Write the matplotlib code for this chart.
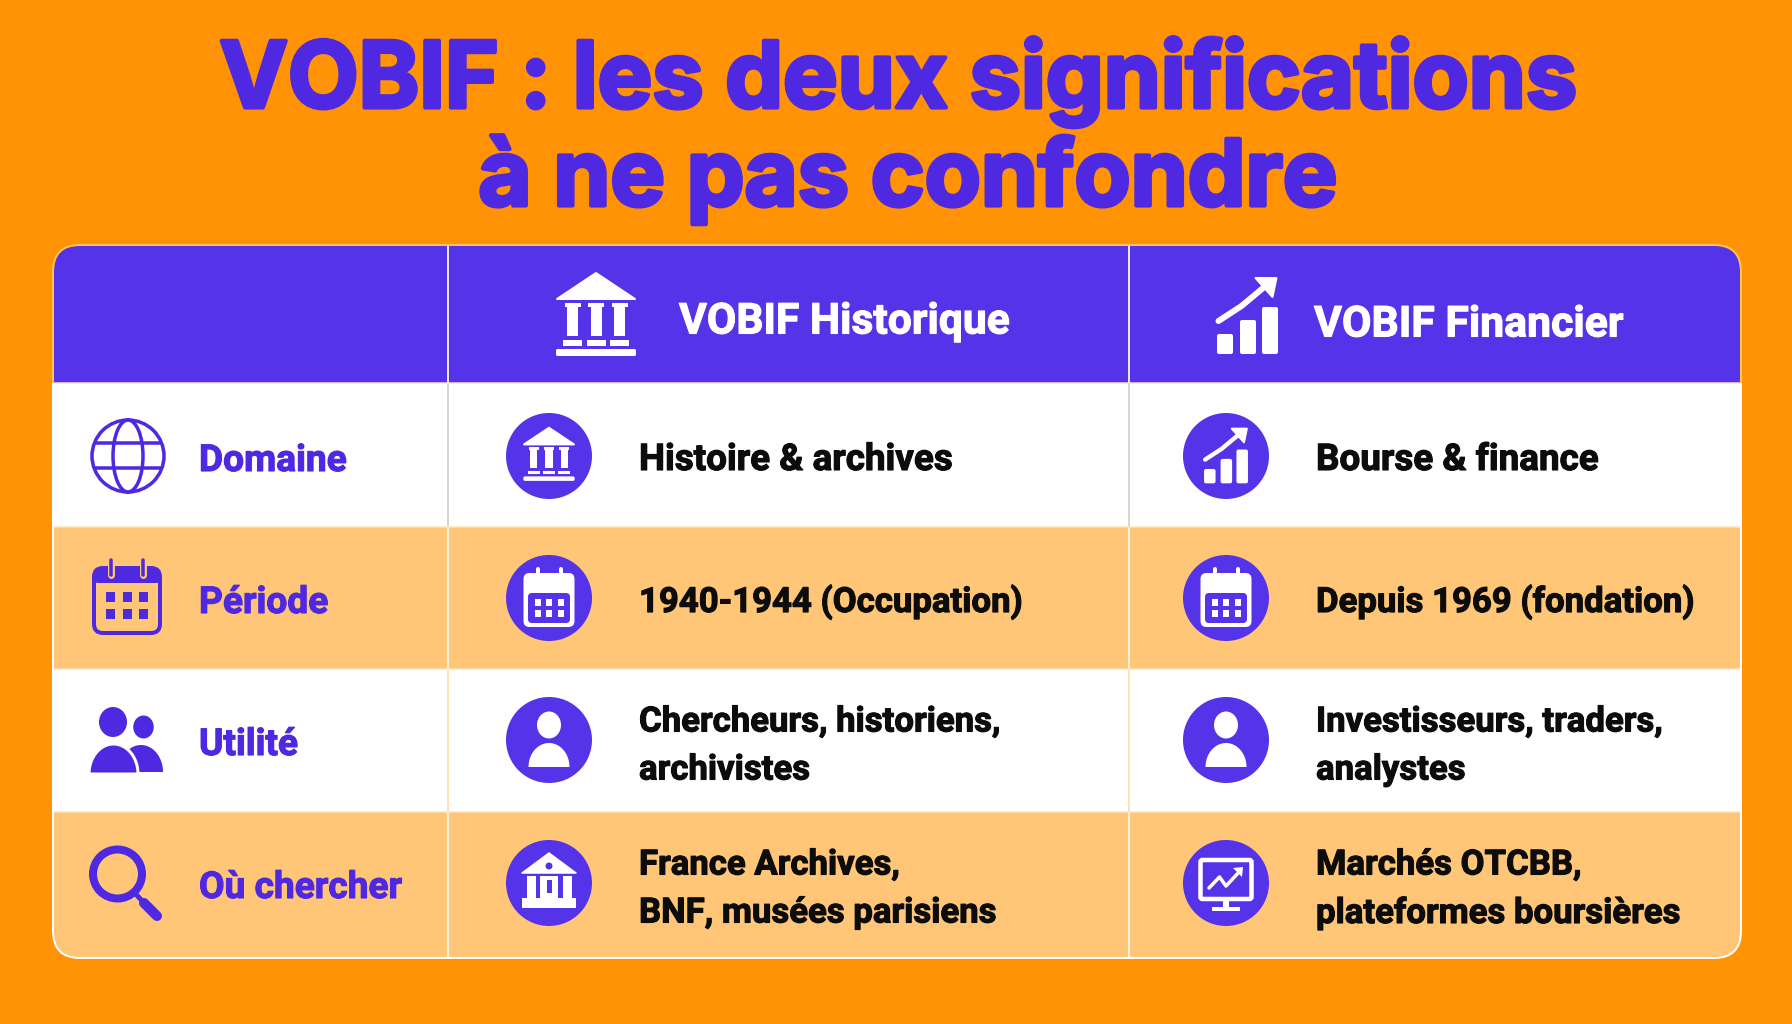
import numpy as np
import matplotlib
matplotlib.use('Agg')
from matplotlib import pyplot as plt
from matplotlib import patheffects as pe
from matplotlib.patches import Rectangle, Circle, Ellipse, Polygon, FancyBboxPatch

plt.rcParams['font.family'] = ['Roboto', 'DejaVu Sans']

#%% CONTENT
title_lines = ['VOBIF : les deux significations', 'à ne pas confondre']
col_headers = ['VOBIF Historique', 'VOBIF Financier']
row_labels = ['Domaine', 'Période', 'Utilité', 'Où chercher']
cells_hist = ['Histoire & archives', '1940-1944 (Occupation)',
              'Chercheurs, historiens,\narchivistes', 'France Archives,\nBNF, musées parisiens']
cells_fin = ['Bourse & finance', 'Depuis 1969 (fondation)',
             'Investisseurs, traders,\nanalystes', 'Marchés OTCBB,\nplateformes boursières']
icons_hist = ['bank', 'calendar', 'person', 'monument']
icons_fin = ['chart', 'calendar', 'person', 'monitor']

#%% COLOURS / LAYOUT (pixels)
ORANGE = '#FF9305'
PURPLE = '#5533E8'
LABEL = '#4F28E2'
TAN = '#FFC677'
WHITE = '#FFFFFF'
INK = '#0C0C0C'

L, R, T, B = 53, 1741, 245, 958
colX = [448, 1129]
rowY = [383, 527, 669, 812]
rowC = [456, 598, 740, 883]
circX = [549, 1226]
textX = [639, 1316]
cellSize = [26.5, 25, 25, 25]

fig = plt.figure(figsize=(17.92, 10.24), dpi=100, facecolor=ORANGE)
ax = fig.add_axes([0, 0, 1, 1])
ax.set_xlim(0, 1792)
ax.set_ylim(1024, 0)
ax.axis('off')


def lw(px):
    return px * 0.72


def rect(x0, y0, x1, y1, c, z=5, r=0):
    if r:
        p = FancyBboxPatch((x0 + r, y0 + r), x1 - x0 - 2 * r, y1 - y0 - 2 * r, boxstyle='round,pad=%f,rounding_size=%f' % (r, r),
                           fc=c, ec='none', zorder=z)
    else:
        p = Rectangle((x0, y0), x1 - x0, y1 - y0, fc=c, ec='none', zorder=z)
    ax.add_patch(p)
    return p


def line(xs, ys, c, px, z=6, cap='round'):
    ax.plot(xs, ys, color=c, lw=lw(px), solid_capstyle=cap, solid_joinstyle='round', zorder=z)


def dome(cx, bottom, hw, h, c, z=6, ec='none', px=0):
    t = np.linspace(0, np.pi, 40)
    ax.add_patch(Polygon(np.c_[cx + hw * np.cos(t), bottom - h * np.sin(t)], fc=c, ec=ec, lw=lw(px), zorder=z))


def bold(x, y, txt, c, size, stroke=0.8, ha='left'):
    ax.text(x, y, txt, color=c, fontsize=size, fontweight='bold', ha=ha, va='center', zorder=8,
            path_effects=[pe.withStroke(linewidth=stroke, foreground=c)])


#%% ICONS
def bank(cx, cy, s, c):
    ax.add_patch(Polygon([(cx, cy - 41 * s), (cx + 39 * s, cy - 15 * s), (cx - 39 * s, cy - 15 * s)],
                         fc=c, ec=c, lw=lw(2), joinstyle='round', zorder=6))
    for dx in (-23.5, 0, 23.5):
        rect(cx + (dx - 8) * s, cy - 11 * s, cx + (dx + 8) * s, cy - 7 * s, c, 6)
        rect(cx + (dx - 5.5) * s, cy - 9 * s, cx + (dx + 5.5) * s, cy + 22 * s, c, 6)
        rect(cx + (dx - 9.5) * s, cy + 26 * s, cx + (dx + 9.5) * s, cy + 32 * s, c, 6)
    rect(cx - 40 * s, cy + 35 * s, cx + 40 * s, cy + 42 * s, c, 6, r=1.5)


def chart(cx, cy, s, c):
    for x0, top in ((-30.5, 18), (-7.5, 4), (14.5, -9)):
        rect(cx + x0 * s, cy + top * s, cx + (x0 + 16) * s, cy + 38 * s, c, 6, r=2)
    line([cx - 29 * s, cx - 6 * s, cx + 24 * s], [cy + 5 * s, cy - 10 * s, cy - 35 * s], c, 6 * s)
    ax.add_patch(Polygon([(cx + 29 * s, cy - 38 * s), (cx + 8 * s, cy - 38 * s), (cx + 25 * s, cy - 19 * s)],
                         fc=c, ec=c, lw=lw(2), joinstyle='round', zorder=6))


def calendar_white(cx, cy, c, bg):
    rect(cx - 25.5, cy - 25, cx + 25.5, cy + 29, c, 6, r=6)
    line([cx - 11, cx - 11], [cy - 29, cy - 22], c, 4)
    line([cx + 12, cx + 12], [cy - 29, cy - 22], c, 4)
    rect(cx - 21, cy - 5, cx + 21, cy + 25, bg, 7, r=4)
    for dx in (-11, 0, 12):
        for dy in (4, 15):
            rect(cx + dx - 3.2, cy + dy - 3.5, cx + dx + 3.2, cy + dy + 3.5, c, 8)


def person(cx, cy, c):
    ax.add_patch(Ellipse((cx, cy - 15), 24, 27, fc=c, ec='none', zorder=6))
    dome(cx, cy + 27, 20.5, 24, c)


def monument(cx, cy, c, bg):
    ax.add_patch(Polygon([(cx, cy - 30), (cx + 27, cy - 10), (cx - 27, cy - 10)], fc=c, ec=c, lw=lw(1.5),
                         joinstyle='round', zorder=6))
    ax.add_patch(Circle((cx, cy - 17), 3.5, fc=bg, ec='none', zorder=7))
    for dx in (-18, 18):
        rect(cx + dx - 4.5, cy - 7, cx + dx + 4.5, cy + 15, c, 6)
    rect(cx - 9, cy - 7, cx + 9, cy + 15, c, 6)
    rect(cx - 2.5, cy - 3, cx + 2.5, cy + 10, bg, 7)
    rect(cx - 27, cy + 15, cx + 27, cy + 25, c, 6)


def monitor(cx, cy, c):
    ax.add_patch(FancyBboxPatch((cx - 25.5, cy - 23), 51, 39, boxstyle='round,pad=0,rounding_size=2',
                                fc='none', ec=c, lw=lw(4.5), zorder=6))
    line([cx - 17, cx - 6.5, cx, cx + 14], [cy + 5, cy - 6, cy + 3, cy - 12], c, 3.5)
    ax.add_patch(Polygon([(cx + 17, cy - 16), (cx + 7, cy - 15), (cx + 16, cy - 6)], fc=c, ec='none', zorder=6))
    rect(cx - 3, cy + 18, cx + 3, cy + 24, c, 6)
    rect(cx - 14, cy + 24, cx + 14, cy + 28, c, 6)


def draw_cell_icon(name, cx, cy):
    ax.add_patch(Circle((cx, cy), 43, fc=PURPLE, ec='none', zorder=5))
    if name == 'bank':
        bank(cx, cy - 2, 0.64, WHITE)
    elif name == 'chart':
        chart(cx, cy, 0.72, WHITE)
    elif name == 'calendar':
        calendar_white(cx, cy, WHITE, PURPLE)
    elif name == 'person':
        person(cx, cy, WHITE)
    elif name == 'monument':
        monument(cx, cy, WHITE, PURPLE)
    elif name == 'monitor':
        monitor(cx, cy, WHITE)


#%% TABLE
frame = FancyBboxPatch((L, T), R - L, B - T, boxstyle='round,pad=0,rounding_size=27', fc='none', ec='none', zorder=1)
ax.add_patch(frame)
bands = [(T, rowY[0], PURPLE), (rowY[0], rowY[1], WHITE), (rowY[1], rowY[2], TAN),
         (rowY[2], rowY[3], WHITE), (rowY[3], B, TAN)]
for y0, y1, c in bands:
    rect(L, y0, R, y1, c, 2).set_clip_path(frame)

for x in colX:
    line([x, x], [T, rowY[0]], '#E9E6FF', 2, 3, 'butt')
    line([x, x], [rowY[0], rowY[1]], '#D8D6D2', 2, 3, 'butt')
    line([x, x], [rowY[1], rowY[2]], '#FFF1DC', 2, 3, 'butt')
    line([x, x], [rowY[2], rowY[3]], '#FFE2B8', 2, 3, 'butt')
    line([x, x], [rowY[3], B], '#FFF1DC', 2, 3, 'butt')
for y in rowY:
    line([L, R], [y, y], '#FFE2B8', 1.5, 3, 'butt')

for y0, y1, c in [(0, rowY[0], '#FFC34F'), (rowY[0], 1024, WHITE)]:
    edge = FancyBboxPatch((L, T), R - L, B - T, boxstyle='round,pad=0,rounding_size=27', fc='none', ec=c, lw=lw(2), zorder=4)
    ax.add_patch(edge)
    edge.set_clip_path(Rectangle((0, y0), 1792, y1 - y0, transform=ax.transData))

#%% TITLE
for txt, x, y in zip(title_lines, (898, 908), (82, 180)):
    ax.text(x, y, txt, color=LABEL, fontsize=66, fontweight='bold', family=['Inter', 'DejaVu Sans'], ha='center', va='center', zorder=8,
            path_effects=[pe.withStroke(linewidth=3, foreground=LABEL)])

#%% HEADER
bank(596, 314, 1, WHITE)
chart(1247.5, 316, 1, WHITE)
bold(679, 322, col_headers[0], WHITE, 30.7)
bold(1314, 325, col_headers[1], WHITE, 30.8)

#%% ROW LABELS + ICONS
# globe
ax.add_patch(Circle((128, 456), 36, fc='none', ec=LABEL, lw=lw(3.5), zorder=6))
ax.add_patch(Ellipse((128, 456), 30, 72, fc='none', ec=LABEL, lw=lw(3.5), zorder=6))
line([94, 162], [443, 443], LABEL, 3.5, cap='butt')
line([94, 162], [468, 468], LABEL, 3.5, cap='butt')

# calendar
ax.add_patch(FancyBboxPatch((94, 568), 66, 65, boxstyle='round,pad=0,rounding_size=9', fc='none', ec=LABEL, lw=lw(4), zorder=6))
rect(94, 568, 160, 583, LABEL, 6, r=4)
for x in (111.4, 142.7):
    line([x, x], [560, 575], TAN, 7)
    line([x, x], [560, 575], LABEL, 3.5, z=7)
for x in (110.5, 127, 143.6):
    for y in (597, 614):
        rect(x - 4.5, y - 5, x + 4.5, y + 5, LABEL, 6)

# people
ax.add_patch(Ellipse((143.5, 727), 20.5, 23, fc=LABEL, ec='none', zorder=6))
dome(141, 772, 22, 27, LABEL)
ax.add_patch(Ellipse((113, 722), 28, 30, fc=LABEL, ec='none', zorder=7))
dome(113.5, 774, 24.5, 30, LABEL, 7, WHITE, 3)
rect(88, 774, 140, 778, WHITE, 7)

# search
ax.add_patch(Circle((117.5, 874), 24.5, fc='none', ec=LABEL, lw=lw(8), zorder=6))
line([134, 143], [892, 902], LABEL, 5)
line([144, 157], [903, 916], LABEL, 10)

for label, y in zip(row_labels, (461, 603, 745, 888)):
    bold(199, y, label, LABEL, 26.7)

#%% CELLS
for cells, icons, cx, tx in zip((cells_hist, cells_fin), (icons_hist, icons_fin), circX, textX):
    for cell, icon, cy, size in zip(cells, icons, rowC, cellSize):
        draw_cell_icon(icon, cx, cy)
        parts = cell.split('\n')
        if len(parts) == 1:
            bold(tx, cy + 4, parts[0], INK, size)
        else:
            bold(tx, cy - 18, parts[0], INK, size)
            bold(tx, cy + 30, parts[1], INK, size)

fig.savefig('out.png', dpi=100, facecolor=ORANGE)
